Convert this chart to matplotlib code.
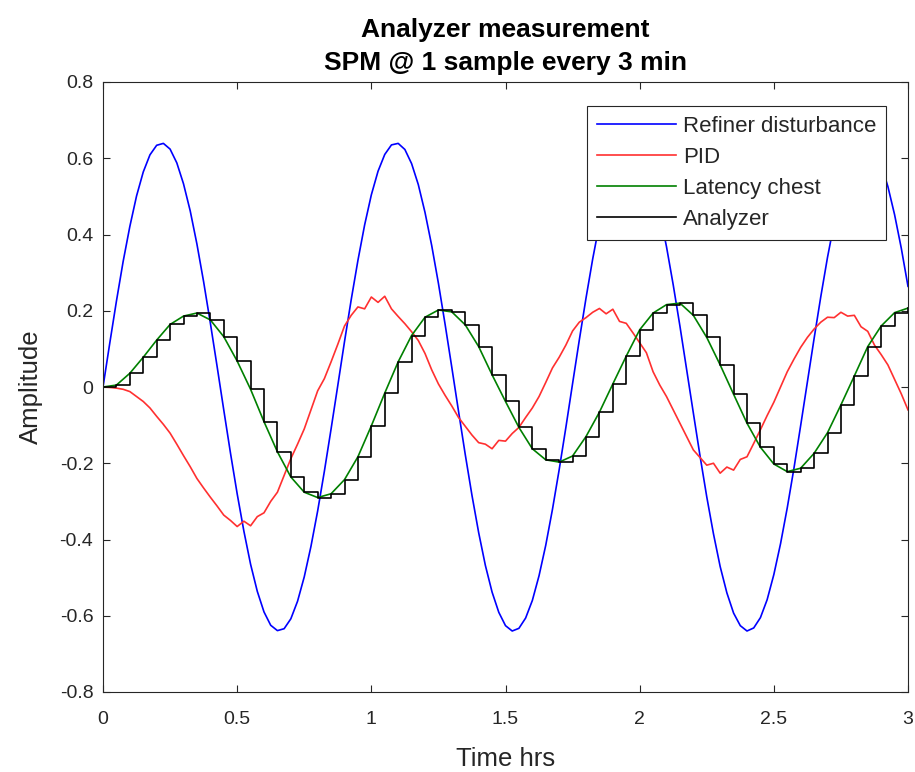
import numpy as np
import matplotlib.pyplot as plt

plt.rcParams['font.family'] = ['Liberation Sans', 'DejaVu Sans']
plt.rcParams['axes.unicode_minus'] = False

# time grids (hrs): fine grid every 1.5 min, analyzer sample every 3 min
t_fine = np.linspace(0, 3, 121)
t_samp = np.linspace(0, 3, 61)

# values
refiner = [0.000, 0.114, 0.225, 0.329, 0.421, 0.501, 0.564, 0.609, 0.634, 0.639,
           0.624, 0.588, 0.533, 0.462, 0.375, 0.276, 0.168, 0.055, -0.060, -0.173,
           -0.280, -0.378, -0.465, -0.536, -0.590, -0.625, -0.639, -0.634, -0.608, -0.562,
           -0.498, -0.418, -0.325, -0.221, -0.110, 0.004, 0.119, 0.229, 0.332, 0.425,
           0.504, 0.566, 0.610, 0.635, 0.639, 0.623, 0.586, 0.531, 0.458, 0.371,
           0.272, 0.164, 0.051, -0.064, -0.177, -0.284, -0.382, -0.468, -0.538, -0.591,
           -0.626, -0.640, -0.633, -0.606, -0.560, -0.495, -0.415, -0.321, -0.217, -0.106,
           0.009, 0.123, 0.233, 0.336, 0.428, 0.506, 0.568, 0.612, 0.635, 0.639,
           0.622, 0.584, 0.528, 0.455, 0.368, 0.268, 0.160, 0.046, -0.068, -0.181,
           -0.288, -0.385, -0.471, -0.540, -0.593, -0.626, -0.640, -0.632, -0.605, -0.558,
           -0.492, -0.411, -0.317, -0.213, -0.101, 0.013, 0.127, 0.237, 0.340, 0.431,
           0.509, 0.570, 0.613, 0.636, 0.639, 0.621, 0.583, 0.526, 0.452, 0.364,
           0.264]

pid = [0.000, -0.001, -0.003, -0.006, -0.012, -0.025, -0.038, -0.055, -0.077, -0.098,
       -0.121, -0.150, -0.180, -0.209, -0.240, -0.265, -0.289, -0.312, -0.336, -0.350,
       -0.366, -0.352, -0.364, -0.340, -0.330, -0.300, -0.276, -0.232, -0.188, -0.150,
       -0.110, -0.060, -0.010, 0.022, 0.066, 0.112, 0.160, 0.188, 0.210, 0.205,
       0.236, 0.222, 0.238, 0.205, 0.185, 0.166, 0.145, 0.122, 0.088, 0.045,
       0.008, -0.022, -0.050, -0.080, -0.103, -0.126, -0.146, -0.150, -0.162, -0.140,
       -0.142, -0.122, -0.106, -0.080, -0.055, -0.025, 0.012, 0.050, 0.078, 0.110,
       0.147, 0.170, 0.182, 0.196, 0.206, 0.192, 0.204, 0.172, 0.167, 0.142,
       0.116, 0.090, 0.040, 0.005, -0.025, -0.060, -0.095, -0.130, -0.165, -0.185,
       -0.205, -0.200, -0.226, -0.210, -0.218, -0.190, -0.183, -0.148, -0.112, -0.075,
       -0.040, 0.000, 0.040, 0.073, 0.104, 0.130, 0.152, 0.170, 0.183, 0.182,
       0.196, 0.186, 0.188, 0.158, 0.146, 0.110, 0.085, 0.058, 0.020, -0.018,
       -0.060]

latency_chest = [0.000, 0.005, 0.036, 0.078, 0.123, 0.164, 0.186, 0.194, 0.176, 0.132,
                 0.068, -0.006, -0.091, -0.170, -0.236, -0.276, -0.290, -0.280, -0.243, -0.183,
                 -0.102, -0.016, 0.066, 0.135, 0.183, 0.202, 0.197, 0.163, 0.106, 0.032,
                 -0.038, -0.106, -0.162, -0.191, -0.197, -0.181, -0.130, -0.066, 0.008, 0.081,
                 0.150, 0.194, 0.216, 0.220, 0.188, 0.130, 0.058, -0.019, -0.095, -0.158,
                 -0.202, -0.222, -0.213, -0.174, -0.120, -0.047, 0.029, 0.106, 0.160, 0.195,
                 0.207]

# analyzer holds the chest value taken at each 3 min sample
analyzer = list(latency_chest)

x_ticks = [0, 0.5, 1, 1.5, 2, 2.5, 3]
x_labels = ['0', '0.5', '1', '1.5', '2', '2.5', '3']
y_ticks = [-0.8, -0.6, -0.4, -0.2, 0, 0.2, 0.4, 0.6, 0.8]
y_labels = ['-0.8', '-0.6', '-0.4', '-0.2', '0', '0.2', '0.4', '0.6', '0.8']

txt = '#262626'

fig = plt.figure(figsize=(9.15, 7.72), dpi=100)
ax = fig.add_axes([103 / 915, 80 / 772, 805 / 915, 610 / 772])

ax.plot(t_fine, refiner, color='#0000ff', lw=1.2, label='Refiner disturbance')
ax.plot(t_fine, pid, color='#ff3030', lw=1.2, label='PID')
ax.plot(t_samp, latency_chest, color='#008000', lw=1.2, label='Latency chest')
ax.step(t_samp, analyzer, where='post', color='k', lw=1.2, label='Analyzer')

ax.set_xlim(0, 3)
ax.set_ylim(-0.8, 0.8)
ax.set_xticks(x_ticks)
ax.set_xticklabels(x_labels)
ax.set_yticks(y_ticks)
ax.set_yticklabels(y_labels)
ax.tick_params(direction='in', top=True, right=True, length=5, width=0.8,
               colors=txt, labelsize=14)
ax.tick_params(axis='x', pad=14)
ax.tick_params(axis='y', pad=7)
for s in ax.spines.values():
    s.set_color(txt)
    s.set_linewidth(0.8)

ax.set_xlabel('Time hrs', fontsize=18.5, color=txt, labelpad=13)
ax.set_ylabel('Amplitude', fontsize=18.5, color=txt, labelpad=12)
ax.set_title('Analyzer measurement\nSPM @ 1 sample every 3 min', fontweight='bold',
             fontsize=19, linespacing=1.5, pad=8.5, color='k')

leg = ax.legend(loc='upper right', bbox_to_anchor=(0.9727, 0.9607), borderaxespad=0,
                fancybox=False, edgecolor=txt, framealpha=1, fontsize=16,
                handlelength=3.55, handletextpad=0.3, labelspacing=0.45, borderpad=0.45)
leg.get_frame().set_linewidth(0.8)
for t in leg.get_texts():
    t.set_color(txt)

fig.savefig('out.png', dpi=100)
